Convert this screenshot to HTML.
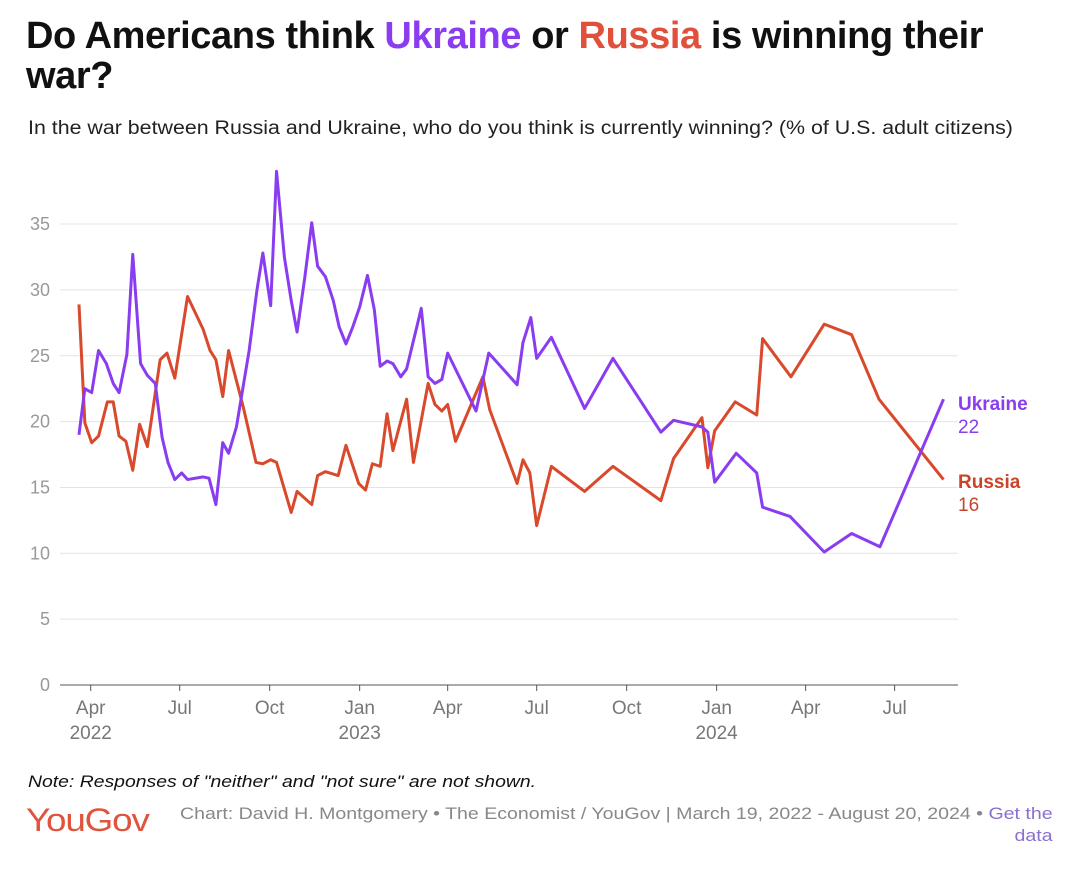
<!DOCTYPE html>
<html><head><meta charset="utf-8">
<style>
body{margin:0;width:1070px;height:878px;background:#fff;font-family:"Liberation Sans",sans-serif;position:relative;overflow:hidden}
.abs{position:absolute;white-space:nowrap;transform-origin:0 0}
#title{left:26px;top:16px;font-size:38px;font-weight:bold;color:#111;line-height:40px;letter-spacing:-0.4px}
#sub{left:28px;top:118px;font-size:19px;color:#222;transform:scaleX(1.125)}
#note{left:28px;top:772px;font-size:17px;font-style:italic;color:#111;transform:scaleX(1.14)}
#logo{left:26px;top:802px;font-size:32px;color:#e0533d;letter-spacing:-1px;transform:scaleX(1.15)}
#credit{left:180px;top:803px;font-size:17px;color:#888;text-align:right;transform:scaleX(1.15)}
</style></head><body>
<div id="title" class="abs">Do Americans think <span style="color:#8a3cf0">Ukraine</span> or <span style="color:#e0503a">Russia</span> is winning their<br>war?</div>
<div id="sub" class="abs">In the war between Russia and Ukraine, who do you think is currently winning? (% of U.S. adult citizens)</div>
<svg id="chart" width="1070" height="878" style="position:absolute;left:0;top:0"></svg>
<div id="note" class="abs">Note: Responses of "neither" and "not sure" are not shown.</div>
<div id="logo" class="abs">YouGov</div>
<div id="credit" class="abs" style="line-height:22px">Chart: David H. Montgomery • The Economist / YouGov | March 19, 2022 - August 20, 2024 • <span style="color:#8a6fd0">Get the</span><br><span style="color:#8a6fd0;float:right">data</span></div>
<script>
// days since 2022-03-19
const ukraineDays=[1,7,14,21,29,36,42,50,56,64,71,79,86,92,99,106,112,128,134,141,148,154,162,175,183,189,197,203,211,218,224,232,239,245,253,261,267,274,281,288,296,303,309,316,322,330,336,351,358,365,372,378,407,420,449,455,463,469,484,518,547,596,609,638,644,651,673,694,700,728,763,791,820,885];
const ukraineValues=[19.0,22.5,22.2,25.4,24.4,22.9,22.2,25.1,32.7,24.4,23.5,22.9,18.8,16.9,15.6,16.1,15.6,15.8,15.7,13.7,18.4,17.6,19.6,25.4,30.0,32.8,28.8,39.0,32.5,29.2,26.8,31.0,35.1,31.8,31.0,29.2,27.2,25.9,27.2,28.7,31.1,28.5,24.2,24.6,24.4,23.4,24.0,28.6,23.4,22.9,23.2,25.2,20.8,25.2,22.8,26.0,27.9,24.8,26.4,21.0,24.8,19.2,20.1,19.6,19.2,15.4,17.6,16.1,13.5,12.8,10.1,11.5,10.5,21.7];
const russiaDays=[1,7,14,21,30,36,42,49,56,63,71,84,91,99,112,128,135,141,148,154,169,182,189,197,203,218,224,239,245,253,266,274,287,294,301,309,316,322,336,343,358,365,372,378,386,414,421,449,455,462,469,484,518,547,596,609,638,644,651,672,694,700,729,763,791,819,885];
const russiaValues=[28.9,19.9,18.4,18.9,21.5,21.5,18.9,18.5,16.3,19.8,18.1,24.7,25.2,23.3,29.5,27.0,25.4,24.7,21.9,25.4,21.1,16.9,16.8,17.1,16.9,13.1,14.7,13.7,15.9,16.2,15.9,18.2,15.3,14.8,16.8,16.6,20.6,17.8,21.7,16.9,22.9,21.3,20.8,21.3,18.5,23.4,20.9,15.3,17.1,16.1,12.1,16.6,14.7,16.6,14.0,17.2,20.3,16.5,19.3,21.5,20.5,26.3,23.4,27.4,26.6,21.7,15.6];
const yTicks=[0,5,10,15,20,25,30,35];
const xTickDays=[13,104,196,288,378,469,561,653,744,835];
const xTickLabels=["Apr","Jul","Oct","Jan","Apr","Jul","Oct","Jan","Apr","Jul"];
const xYearLabels=["2022","","","2023","","","","2024","",""];

const NS="http://www.w3.org/2000/svg";
const svg=document.getElementById('chart');
const X=d=>78+d*0.978;
const Y=v=>685-v*13.17;
function el(t,a,p){const e=document.createElementNS(NS,t);for(const k in a)e.setAttribute(k,a[k]);(p||svg).appendChild(e);return e;}
yTicks.forEach(v=>{
  const l=el('line',{x1:60,x2:958,y1:Y(v),y2:Y(v),stroke:v===0?'#555':'#e4e4e4','stroke-width':1});
  
  
  const t=el('text',{x:50,y:Y(v)+6,'text-anchor':'end','font-size':18,fill:'#999','font-family':'Liberation Sans'});
  t.textContent=v;
  
  
});
xTickDays.forEach((d,i)=>{
  const tk=el('line',{x1:X(d),x2:X(d),y1:685,y2:691,stroke:'#555'});
  
  
  const t=el('text',{x:X(d),y:714,'text-anchor':'middle','font-size':19,fill:'#777','font-family':'Liberation Sans'});
  t.textContent=xTickLabels[i];
  
  
  if(xYearLabels[i]){
    const y=el('text',{x:X(d),y:739,'text-anchor':'middle','font-size':19,fill:'#777','font-family':'Liberation Sans'});
    y.textContent=xYearLabels[i];
    
    
  }
});
function line(days,vals,color,name){
  const p=el('polyline',{points:days.map((d,i)=>X(d)+','+Y(vals[i])).join(' '),fill:'none',stroke:color,'stroke-width':3,'stroke-linejoin':'round'});
  
  
}
line(russiaDays,russiaValues,'#d9492c','russia-line');
line(ukraineDays,ukraineValues,'#8a3cf0','ukraine-line');
function label(txt,val,y,color,name){
  const t=el('text',{x:958,y:y,'font-size':19,'font-weight':'bold',fill:color,'font-family':'Liberation Sans'});
  t.textContent=txt;
  
  
  const v=el('text',{x:958,y:y+23,'font-size':19,fill:color,'font-family':'Liberation Sans'});
  v.textContent=val;
  
  
}
label('Ukraine',Math.round(ukraineValues[ukraineValues.length-1]),410,'#8a3cf0','ukraine');
label('Russia',Math.round(russiaValues[russiaValues.length-1]),488,'#c9442a','russia');
</script>
</body></html>
